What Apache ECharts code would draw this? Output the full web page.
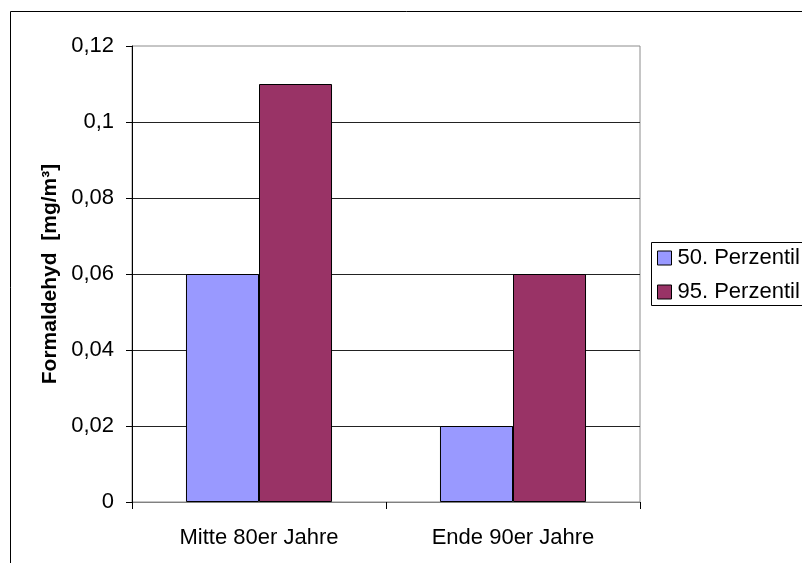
<!DOCTYPE html>
<html>
<head>
<meta charset="utf-8">
<script src="https://cdn.jsdelivr.net/npm/echarts@6/dist/echarts.min.js"></script>
<style>
  html, body { margin: 0; padding: 0; background: #ffffff; }
  #chart { width: 802px; height: 563px; }
</style>
</head>
<body>
<div id="chart"></div>
<script>
// Formaldehyd-Konzentrationen (Perzentile) in zwei Zeiträumen
const categories = ['Mitte 80er Jahre', 'Ende 90er Jahre'];
const seriesNames = ['50. Perzentil', '95. Perzentil'];
const p50 = [0.06, 0.02];
const p95 = [0.11, 0.06];
const yTickLabels = ['0', '0,02', '0,04', '0,06', '0,08', '0,1', '0,12'];
const yTitle = 'Formaldehyd  [mg/m\u00B3]';

const FONT = '"Liberation Sans", Arial, sans-serif';
const chart = echarts.init(document.getElementById('chart'), null, { renderer: 'canvas' });

chart.setOption({
  backgroundColor: '#ffffff',
  animation: false,
  graphic: [
    {
      // outer chart frame, running past the right and bottom edges
      type: 'rect',
      shape: { x: 10.5, y: 11.5, width: 900, height: 700 },
      style: { fill: 'none', stroke: '#000000', lineWidth: 1 },
      silent: true
    },
    {
      // legend frame, also cut off at the right edge
      type: 'rect',
      shape: { x: 651.5, y: 242.5, width: 200, height: 63 },
      style: { fill: 'none', stroke: '#000000', lineWidth: 1 },
      silent: true
    }
  ],
  grid: {
    left: 132, top: 46, width: 508, height: 456,
    show: true, borderColor: '#8c8c8c', borderWidth: 1, backgroundColor: 'transparent'
  },
  legend: {
    left: 651, top: 242,
    orient: 'vertical',
    data: seriesNames,
    icon: 'rect',
    itemWidth: 14, itemHeight: 14,
    itemGap: 12,
    padding: [5, 0, 3, 6],
    borderWidth: 0,
    itemStyle: { borderColor: '#000000', borderWidth: 1 },
    textStyle: { fontFamily: FONT, fontSize: 22, color: '#000000', lineHeight: 22, padding: [0, 0, 0, 1] }
  },
  xAxis: {
    type: 'category',
    data: categories,
    axisLine: { show: true, lineStyle: { color: '#808080', width: 1 } },
    axisTick: { show: true, length: 7, alignWithLabel: false, lineStyle: { color: '#000000' } },
    axisLabel: { fontFamily: FONT, fontSize: 22, color: '#000000', margin: 25 },
    splitLine: { show: false }
  },
  yAxis: {
    type: 'value',
    min: 0, max: 0.12, interval: 0.02,
    name: yTitle,
    nameLocation: 'middle',
    nameGap: 70,
    nameTextStyle: { fontFamily: FONT, fontSize: 21, fontWeight: 'bold', color: '#000000' },
    axisLine: { show: true, lineStyle: { color: '#000000', width: 1 } },
    axisTick: { show: true, inside: false, length: 6, lineStyle: { color: '#000000' } },
    axisLabel: {
      fontFamily: FONT, fontSize: 22, color: '#000000', margin: 18,
      formatter: function (v) { return yTickLabels[Math.round(v / 0.02)]; }
    },
    splitLine: { show: true, showMaxLine: false, lineStyle: { color: '#222222', width: 1 } }
  },
  series: [
    {
      name: seriesNames[0], type: 'bar', data: p50,
      barGap: '0%', barCategoryGap: '42.5%',
      itemStyle: { color: '#9999ff', borderColor: '#000000', borderWidth: 1 }
    },
    {
      name: seriesNames[1], type: 'bar', data: p95,
      barGap: '0%', barCategoryGap: '42.5%',
      itemStyle: { color: '#993366', borderColor: '#000000', borderWidth: 1 }
    }
  ]
});
</script>
</body>
</html>
